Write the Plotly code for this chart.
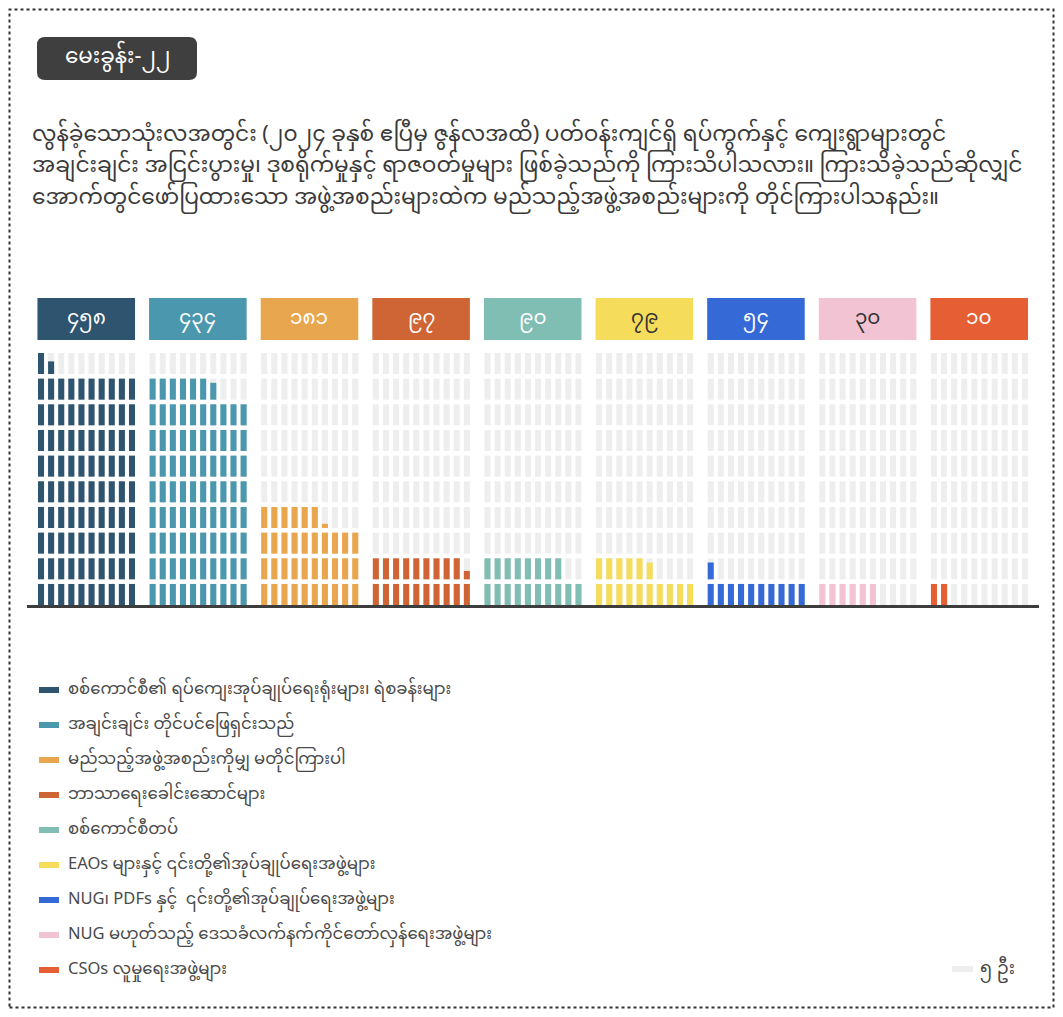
import plotly.graph_objects as go

# ---------------- data ----------------
categories = [
    "စစ်ကောင်စီ၏ ရပ်ကျေးအုပ်ချုပ်ရေးရုံးများ၊ ရဲစခန်းများ",
    "အချင်းချင်း တိုင်ပင်ဖြေရှင်းသည်",
    "မည်သည့်အဖွဲ့အစည်းကိုမျှ မတိုင်ကြားပါ",
    "ဘာသာရေးခေါင်းဆောင်များ",
    "စစ်ကောင်စီတပ်",
    "EAOs များနှင့် ၎င်းတို့၏အုပ်ချုပ်ရေးအဖွဲ့များ",
    "NUG၊ PDFs နှင့်  ၎င်းတို့၏အုပ်ချုပ်ရေးအဖွဲ့များ",
    "NUG မဟုတ်သည့် ဒေသခံလက်နက်ကိုင်တော်လှန်ရေးအဖွဲ့များ",
    "CSOs လူမှုရေးအဖွဲ့များ",
]
values = [458, 434, 181, 97, 90, 79, 54, 30, 10]
colors = ["#2e5470", "#4a97ae", "#e8a64f", "#cf6534", "#80beb3",
          "#f6dc5b", "#3569d6", "#f2c4d3", "#e65e34"]
label_colors = ["#ffffff", "#ffffff", "#ffffff", "#ffffff", "#ffffff",
                "#333333", "#ffffff", "#333333", "#ffffff"]
people_per_icon = 5
grid_cols = 10
grid_rows = 10
unit_label = "၅ ဦး"
badge_text = "မေးခွန်း-၂၂"
question_lines = [
    "လွန်ခဲ့သောသုံးလအတွင်း (၂၀၂၄ ခုနှစ် ဧပြီမှ ဇွန်လအထိ) ပတ်ဝန်းကျင်ရှိ ရပ်ကွက်နှင့် ကျေးရွာများတွင်",
    "အချင်းချင်း အငြင်းပွားမှု၊ ဒုစရိုက်မှုနှင့် ရာဇဝတ်မှုများ ဖြစ်ခဲ့သည်ကို ကြားသိပါသလား။ ကြားသိခဲ့သည်ဆိုလျှင်",
    "အောက်တွင်ဖော်ပြထားသော အဖွဲ့အစည်းများထဲက မည်သည့်အဖွဲ့အစည်းများကို တိုင်ကြားပါသနည်း။",
]

MY_DIGITS = "၀၁၂၃၄၅၆၇၈၉"


def to_myanmar(n):
    return "".join(MY_DIGITS[int(c)] for c in str(n))


# ---------------- geometry ----------------
OFF = 8                      # body margin of the page
W, H = 1047, 1001
L, R, T, B = 19, 16, 289, 400
PW, PH = W - L - R, H - T - B
GROUP = 11.04                # x-units between groups
BAR_W = 0.6
BAR_H = 0.82
GRAY = "#eeeeee"
FONT = "Noto Sans Myanmar, Padauk, Myanmar Text, Noto Sans, sans-serif"


def px(xr):
    return (xr - OFF - L) / PW


def py(yr):
    return 1 - (yr - OFF - T) / PH


fig = go.Figure()

# background grey icons
gx, gb = [], []
for g in range(len(values)):
    for k in range(grid_cols * grid_rows):
        gx.append(g * GROUP + k % grid_cols)
        gb.append(k // grid_cols)
fig.add_trace(go.Bar(x=gx, y=[BAR_H] * len(gx), base=gb, width=BAR_W,
                     marker=dict(color=GRAY, line=dict(width=0)),
                     showlegend=False, hoverinfo="skip"))

# coloured icons
for g, (name, v, c) in enumerate(zip(categories, values, colors)):
    units = v / people_per_icon
    full = int(units)
    frac = units - full
    xs, hs, bs = [], [], []
    for k in range(full):
        xs.append(g * GROUP + k % grid_cols)
        hs.append(BAR_H)
        bs.append(k // grid_cols)
    if frac > 1e-6:
        xs.append(g * GROUP + full % grid_cols)
        hs.append(BAR_H * frac)
        bs.append(full // grid_cols)
    fig.add_trace(go.Bar(x=xs, y=hs, base=bs, width=BAR_W, name=name,
                         marker=dict(color=c, line=dict(width=0)),
                         showlegend=False,
                         hovertemplate=name + ": " + str(v) + "<extra></extra>"))

shapes = []
annotations = []

# header boxes + numbers
for g, (v, c, lc) in enumerate(zip(values, colors, label_colors)):
    shapes.append(dict(type="rect", xref="x", yref="y",
                       x0=g * GROUP - 0.35, x1=g * GROUP + 9.3,
                       y0=10.32, y1=11.96, fillcolor=c, line=dict(width=0),
                       layer="below"))
    annotations.append(dict(x=g * GROUP + 4.47, y=11.14, xref="x", yref="y",
                            text=to_myanmar(v), showarrow=False,
                            font=dict(family=FONT, size=20, color=lc),
                            xanchor="center", yanchor="middle"))

# baseline
shapes.append(dict(type="line", xref="paper", yref="y", x0=0, x1=1,
                   y0=-0.058, y1=-0.058, line=dict(color="#3d3d3d", width=3)))

# dotted frame
shapes.append(dict(type="rect", xref="paper", yref="paper",
                   x0=px(OFF + 1.5), x1=px(OFF + W - 1.5),
                   y0=py(OFF + H - 1.5), y1=py(OFF + 1.5),
                   line=dict(color="#333333", width=2, dash="dot"),
                   layer="below"))

# badge (rounded rectangle)
x0, x1, y0, y1 = px(37), px(197), py(80), py(37)
rx, ry = 8 / PW, 8 / PH
path = (f"M {x0+rx},{y0} L {x1-rx},{y0} Q {x1},{y0} {x1},{y0+ry} "
        f"L {x1},{y1-ry} Q {x1},{y1} {x1-rx},{y1} L {x0+rx},{y1} "
        f"Q {x0},{y1} {x0},{y1-ry} L {x0},{y0+ry} Q {x0},{y0} {x0+rx},{y0} Z")
shapes.append(dict(type="path", xref="paper", yref="paper", path=path,
                   fillcolor="#3f3f3f", line=dict(width=0)))
annotations.append(dict(x=px(117), y=py(58), xref="paper", yref="paper",
                        text=badge_text, showarrow=False,
                        font=dict(family=FONT, size=21.5, color="#ffffff"),
                        xanchor="center", yanchor="middle"))

# question text
for i, line in enumerate(question_lines):
    annotations.append(dict(x=px(30), y=py(136 + i * 31.5), xref="paper",
                            yref="paper", text=line, showarrow=False,
                            font=dict(family=FONT, size=21.7, color="#3a3a3a"),
                            xanchor="left", yanchor="middle"))

# legend
for i, (name, c) in enumerate(zip(categories, colors)):
    yc = 690 + i * 35
    shapes.append(dict(type="rect", xref="paper", yref="paper",
                       x0=px(39), x1=px(59), y0=py(yc + 3), y1=py(yc - 3),
                       fillcolor=c, line=dict(width=0)))
    annotations.append(dict(x=px(66), y=py(yc), xref="paper", yref="paper",
                            text=name, showarrow=False,
                            font=dict(family=FONT, size=16.5, color="#4a4a4a"),
                            xanchor="left", yanchor="middle"))

# unit key
shapes.append(dict(type="rect", xref="paper", yref="paper",
                   x0=px(952), x1=px(973), y0=py(972), y1=py(966),
                   fillcolor=GRAY, line=dict(width=0)))
annotations.append(dict(x=px(978), y=py(969), xref="paper", yref="paper",
                        text=unit_label, showarrow=False,
                        font=dict(family=FONT, size=18, color="#444444"),
                        xanchor="left", yanchor="middle"))

fig.update_layout(
    width=W, height=H,
    margin=dict(l=L, r=R, t=T, b=B, pad=0),
    paper_bgcolor="#ffffff", plot_bgcolor="rgba(0,0,0,0)",
    barmode="overlay", showlegend=False,
    xaxis=dict(range=[-1.385, 98.71], visible=False, fixedrange=True),
    yaxis=dict(range=[-0.156, 12.0], visible=False, fixedrange=True),
    shapes=shapes, annotations=annotations,
)

fig.write_html("out.html")
